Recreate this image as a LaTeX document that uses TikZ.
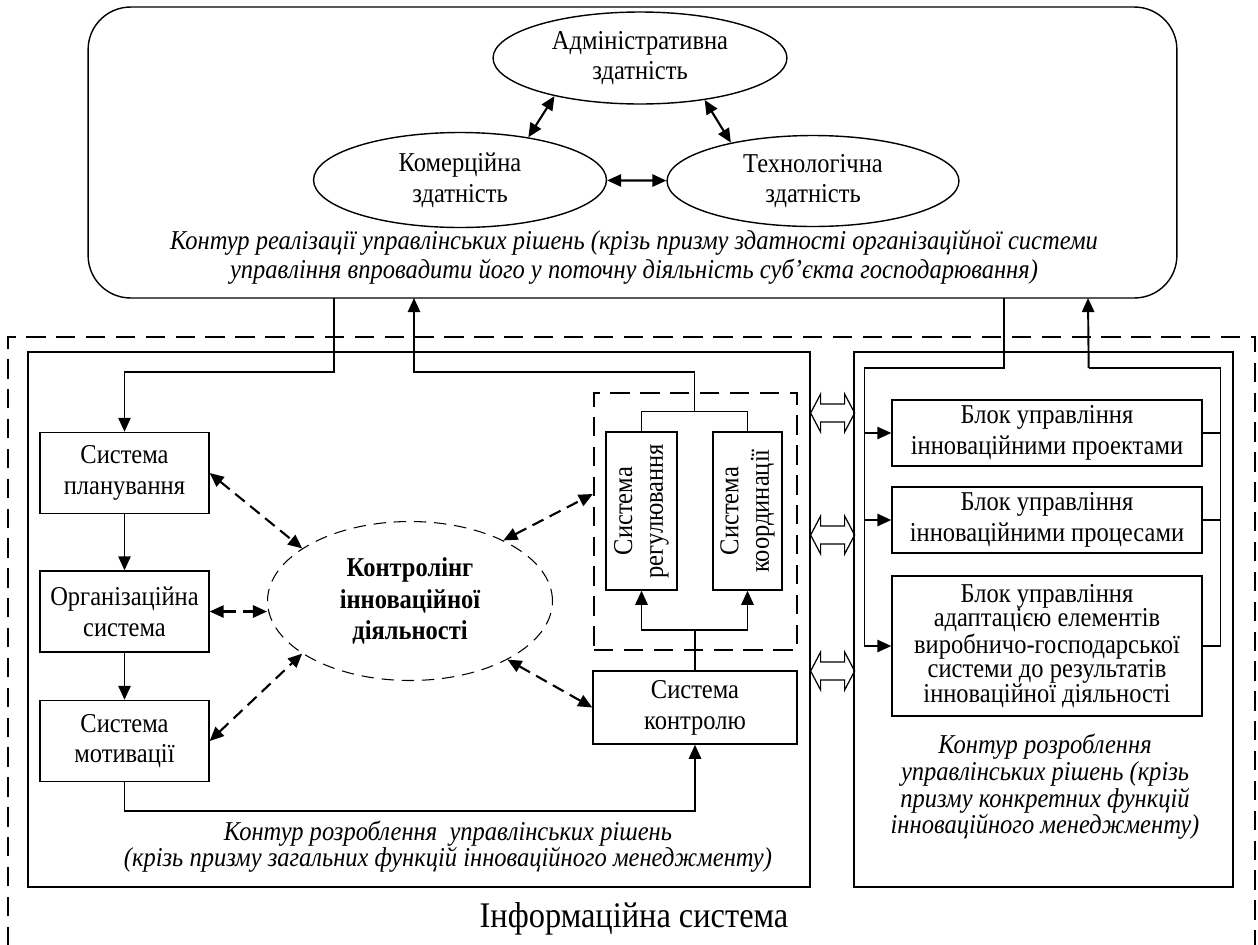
\documentclass[tikz,border=0pt]{standalone}
\usepackage{fontspec}
\setmainfont{Liberation Serif}[FakeStretch=0.9]
\usetikzlibrary{arrows.meta,shapes.geometric,calc}

\tikzset{
  box/.style={draw, line width=0.8pt, minimum width=3.38cm, minimum height=1.62cm, align=center, inner sep=1pt},
  blok/.style={draw, line width=0.8pt, minimum width=6.2cm, minimum height=1.32cm, align=center, inner sep=1pt},
  oval/.style={draw, ellipse, line width=0.8pt, inner sep=0pt, align=center},
  arr/.style={-{Triangle[length=8pt,width=7pt]}, line width=1.1pt},
  dbl/.style={{Triangle[length=8pt,width=7pt]}-{Triangle[length=8pt,width=7pt]}, line width=1.2pt},
  darr/.style={dbl, dash pattern=on 7pt off 4pt},
  wire/.style={line width=0.6pt},
  note/.style={font=\fontsize{15.5}{16.5}\selectfont\itshape, align=center},
}

\begin{document}
\begin{tikzpicture}[x=0.02cm, y=-0.02cm, font=\fontsize{15.5}{17.5}\selectfont]
\useasboundingbox (0,0) rectangle (1258,944);

% upper contour
\node[draw, line width=0.8pt, rounded corners=0.85cm, minimum width=21.78cm, minimum height=5.82cm] (top) at (632.5,152.5) {};
\node[oval, minimum width=5.88cm, minimum height=1.84cm] (adm) at (640,58) {Адміністративна\\здатність};
\node[oval, minimum width=5.86cm, minimum height=1.9cm] (kom) at (460,180) {Комерційна\\здатність};
\node[oval, minimum width=5.84cm, minimum height=1.82cm] (tech) at (813,181) {Технологічна\\здатність};
\node[note] (toplbl) at (634,257) {Контур реалізації управлінських рішень (крізь призму здатності організаційної системи\\управління впровадити його у поточну діяльність суб’єкта господарювання)};
\draw[dbl] (adm.204) -- (kom.32);
\draw[dbl] (adm.327) -- (tech.155);
\draw[dbl] (kom) -- (tech);

% information system
\draw[line width=0.7pt, dash pattern=on 11pt off 6pt] (8,946) -- (8,337) -- (1255,337) -- (1255,946);
\node[font=\fontsize{20.5}{22}\selectfont] (info) at (634,919) {Інформаційна система};

% left contour
\node[draw, line width=0.8pt, minimum width=15.64cm, minimum height=10.7cm] (lrect) at (419,619.5) {};
\node[box] (plan) at (124.5,473) {Система\\планування};
\node[box] (org) at (124.5,611.5) {Організаційна\\система};
\node[box] (motiv) at (124.5,741) {Система\\мотивації};
\node[oval, dash pattern=on 7pt off 4.5pt, line width=0.6pt, minimum width=5.7cm, minimum height=3.18cm, font=\fontsize{15.5}{18}\selectfont\bfseries] (ctrl) at (410,601) {Контролінг\\інноваційної\\діяльності};
\node[draw, line width=1.3pt, dash pattern=on 11pt off 6pt, minimum width=4.06cm, minimum height=5.14cm] (grp) at (695.5,521.5) {};
\node[draw, line width=0.8pt, minimum width=1.42cm, minimum height=3.16cm] (reg) at (641.5,511) {};
\node[draw, line width=0.8pt, minimum width=1.38cm, minimum height=3.16cm] (coord) at (747.5,511) {};
\node[rotate=90, align=center] (regtxt) at (reg) {Система\\регулювання};
\node[rotate=90, align=center] (coordtxt) at (coord) {Система\\координації};
\node[box, minimum width=4.08cm, minimum height=1.46cm] (ctrlsys) at (695,707.5) {Система\\контролю};
\node[note, font=\fontsize{15.5}{15}\selectfont\itshape] (llbl) at (448,847) {Контур розроблення ~управлінських рішень\\(крізь призму загальних функцій інноваційного менеджменту)};

\draw[arr] (plan) -- (org);
\draw[arr] (org) -- (motiv);
\draw[arr] (motiv.south) -- ++(0,29) -| (ctrlsys.south);
\draw[darr] (plan.east) -- (ctrl.154);
\draw[darr] (org.east) -- (org.east -| ctrl.west);
\draw[darr] (motiv.east) -- (ctrl.206);
\draw[darr] (ctrl.33) -- (grp.165);
\draw[darr] (ctrl.329) -- (ctrlsys.west);
\draw[wire] (ctrlsys.north) -- ++(0,-40) coordinate (j2);
\draw[arr] (j2) -| (reg.south);
\draw[arr] (j2) -| (coord.south);
\draw[wire] (reg.north) -- ++(0,-20) -| (coord.north);

% links with the upper contour
\coordinate (out1) at (334,298);
\coordinate (in1) at (414,298);
\coordinate (out2) at (1004,298);
\coordinate (in2) at (1088,298);
\draw[arr] (out1) -- ++(0,74) -| (plan.north);
\draw[arr] ($(reg.north)!0.5!(coord.north)+(0,-20)$) -- ++(0,-39) -| (in1);

% right contour
\node[draw, line width=0.8pt, minimum width=7.58cm, minimum height=10.7cm] (rrect) at (1043.5,619.5) {};
\node[blok] (b1) at (1047,433) {Блок управління\\інноваційними проектами};
\node[blok] (b2) at (1047,520) {Блок управління\\інноваційними процесами};
\node[blok, minimum height=2.8cm, font=\fontsize{15.5}{14}\selectfont] (b3) at (1047,646) {Блок управління\\адаптацією елементів\\виробничо-господарської\\системи до результатів\\інноваційної діяльності};
\node[note, font=\fontsize{15.5}{15.2}\selectfont\itshape] (rlbl) at (1045,787) {Контур розроблення\\управлінських рішень (крізь\\призму конкретних функцій\\інноваційного менеджменту)};

\draw[wire] (out2) -- ++(0,70) -| ([xshift=-0.54cm]b3.west);
\foreach \b in {b1,b2,b3}
  \draw[arr] ([xshift=-0.54cm]\b.west) -- (\b.west);
\foreach \b in {b1,b2}
  \draw[wire] (\b.east) -- ++(18,0);
\draw[wire] (b3.east) -- ++(18,0) -- ++(0,-278) -- ++(-132,0) coordinate (k2);
\draw[arr] (k2) -- (in2);

% exchange between contours
\foreach \y in {413,535,671}
  \draw[line width=0.7pt] (lrect.east |- 0,\y) -- ++(10,-19) -- ++(0,10) -- ++(24,0) -- ++(0,-10) -- ++(10,19)
    -- ++(-10,19) -- ++(0,-10) -- ++(-24,0) -- ++(0,10) -- cycle;
\end{tikzpicture}
\end{document}
